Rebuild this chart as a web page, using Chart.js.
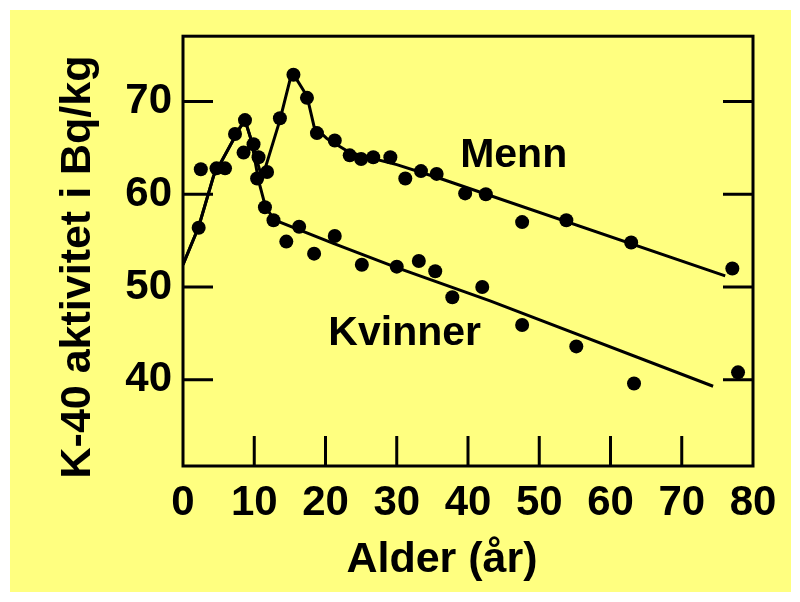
<!DOCTYPE html>
<html>
<head>
<meta charset="utf-8">
<script src="https://cdn.jsdelivr.net/npm/chart.js@4"></script>
<style>
  html, body { margin: 0; padding: 0; background: #fff; }
  canvas { display: block; }
</style>
</head>
<body>
<canvas id="k40Chart" width="800" height="602"></canvas>
<script>
// --- Data ---
// Alder (år) and K-40 aktivitet (Bq/kg), measured points
const boysAge  = [2.5, 5.9, 8.7, 9.9, 10.6, 11.8];
const boysK    = [62.7, 62.8, 68.0, 65.4, 64.0, 62.4];
const girlsAge = [2.2, 4.7, 7.3, 8.5, 10.4];
const girlsK   = [56.4, 62.8, 66.5, 64.5, 61.7];

const menAge = [13.6, 15.5, 17.4, 18.8, 21.3, 23.4, 25.0, 26.7, 29.1, 31.2, 33.4, 35.6, 39.6, 42.5, 47.6, 53.8, 62.9, 77.1];
const menK   = [68.2, 72.9, 70.4, 66.6, 65.8, 64.2, 63.8, 64.0, 64.0, 61.7, 62.5, 62.2, 60.1, 60.0, 57.0, 57.2, 54.8, 52.0];

const womenAge = [11.5, 12.7, 14.5, 16.3, 18.4, 21.3, 25.1, 30.0, 33.1, 35.4, 37.8, 42.0, 47.6, 55.2, 63.3, 77.9];
const womenK   = [58.6, 57.2, 54.9, 56.5, 53.6, 55.5, 52.4, 52.2, 52.8, 51.7, 48.9, 50.0, 45.9, 43.6, 39.6, 40.8];

// hand drawn fit curves
const menFitAge = [0, 2.2, 4.3, 8.0, 8.7, 9.6, 11.1, 13.6, 15.3, 17.4, 18.4, 20.2, 23.4, 30.0, 36.1, 76.1];
const menFitK   = [52.4, 56.5, 62.0, 67.2, 68.0, 65.8, 61.7, 68.0, 73.2, 70.6, 67.3, 66.0, 64.5, 63.2, 61.7, 51.2];
const womenFitAge = [0, 2.2, 4.3, 8.0, 8.7, 9.6, 10.6, 11.6, 12.7, 13.6, 16.5, 21.1, 30.0, 43.1, 74.4];
const womenFitK   = [52.4, 56.5, 62.0, 67.2, 68.0, 65.8, 61.5, 58.6, 57.4, 57.0, 56.1, 54.7, 52.1, 48.5, 39.3];

const xTickVals = [0, 10, 20, 30, 40, 50, 60, 70, 80];
const yTickVals = [40, 50, 60, 70];
const innerXTicks = [10, 20, 30, 40, 50, 60, 70];

const FONT = '"Liberation Sans", Arial, Helvetica, sans-serif';

function pts(xs, ys) {
    return xs.map((x, i) => ({ x: x, y: ys[i] }));
}

// --- paper, frame, inward ticks, titles ---
const paperPlugin = {
    id: 'paper',
    beforeDraw(chart) {
        const ctx = chart.ctx;
        ctx.save();
        ctx.fillStyle = '#ffffff';
        ctx.fillRect(0, 0, chart.width, chart.height);
        ctx.fillStyle = '#ffff80';
        ctx.fillRect(10, 10, 781, 582);
        ctx.restore();
    },
    afterDatasetsDraw(chart) {
        const ctx = chart.ctx;
        const a = chart.chartArea;
        const xs = chart.scales.x, ys = chart.scales.y;
        ctx.save();
        ctx.strokeStyle = '#000';
        ctx.lineWidth = 3;
        ctx.strokeRect(a.left, a.top, a.right - a.left, a.bottom - a.top);

        ctx.beginPath();
        innerXTicks.forEach(v => {
            const px = xs.getPixelForValue(v);
            ctx.moveTo(px, a.bottom);
            ctx.lineTo(px, a.bottom - 30);
        });
        yTickVals.forEach(v => {
            const py = ys.getPixelForValue(v);
            ctx.moveTo(a.left, py);
            ctx.lineTo(a.left + 30, py);
            ctx.moveTo(a.right, py);
            ctx.lineTo(a.right - 30, py);
        });
        ctx.stroke();

        // curve labels
        ctx.fillStyle = '#000';
        ctx.font = 'bold 41px ' + FONT;
        ctx.textAlign = 'left';
        ctx.textBaseline = 'alphabetic';
        ctx.fillText('Menn', xs.getPixelForValue(38.9), ys.getPixelForValue(62.9));
        ctx.fillText('Kvinner', xs.getPixelForValue(20.4), ys.getPixelForValue(43.8));

        // axis titles
        ctx.font = 'bold 43px ' + FONT;
        ctx.textAlign = 'center';
        ctx.fillText('Alder (år)', 442, 572);
        ctx.translate(90, 267);
        ctx.rotate(-Math.PI / 2);
        ctx.fillText('K-40 aktivitet i Bq/kg', 0, 0);
        ctx.restore();
    }
};

const dotStyle = { showLine: false, pointRadius: 7, pointBackgroundColor: '#000', pointBorderWidth: 0 };
const lineStyle = { type: 'line', showLine: true, pointRadius: 0, borderColor: '#000', borderWidth: 3, tension: 0, fill: false };

const ctx = document.getElementById('k40Chart').getContext('2d');
const chart = new Chart(ctx, {
    type: 'scatter',
    data: {
        datasets: [
            Object.assign({ label: 'Menn (kurve)', data: pts(menFitAge, menFitK) }, lineStyle),
            Object.assign({ label: 'Kvinner (kurve)', data: pts(womenFitAge, womenFitK) }, lineStyle),
            Object.assign({ label: 'Gutter', data: pts(boysAge, boysK) }, dotStyle),
            Object.assign({ label: 'Jenter', data: pts(girlsAge, girlsK) }, dotStyle),
            Object.assign({ label: 'Menn', data: pts(menAge, menK) }, dotStyle),
            Object.assign({ label: 'Kvinner', data: pts(womenAge, womenK) }, dotStyle)
        ]
    },
    options: {
        responsive: false,
        animation: false,
        devicePixelRatio: 1,
        layout: { padding: { top: 26, right: 47, bottom: 0, left: 0 } },
        plugins: {
            legend: { display: false },
            tooltip: { enabled: false }
        },
        scales: {
            x: {
                type: 'linear',
                min: 0,
                max: 80,
                afterBuildTicks: s => { s.ticks = xTickVals.map(v => ({ value: v })); },
                afterFit: s => { s.height = 136; },
                grid: { display: false, drawTicks: false },
                border: { display: false },
                ticks: {
                    color: '#000',
                    padding: 12,
                    maxRotation: 0,
                    autoSkip: false,
                    font: { family: FONT, size: 42, weight: 'bold' }
                }
            },
            y: {
                type: 'linear',
                min: 30.7,
                max: 77.05,
                afterBuildTicks: s => { s.ticks = yTickVals.map(v => ({ value: v })); },
                afterFit: s => { s.width = 183; },
                grid: { display: false, drawTicks: false },
                border: { display: false },
                ticks: {
                    color: '#000',
                    padding: 11,
                    font: { family: FONT, size: 42, weight: 'bold' }
                }
            }
        }
    },
    plugins: [paperPlugin]
});
</script>
</body>
</html>
